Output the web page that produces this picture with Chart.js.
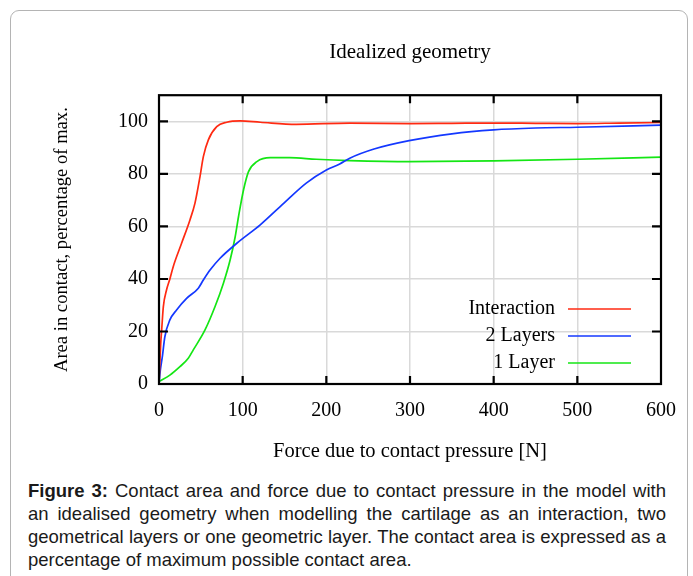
<!DOCTYPE html>
<html>
<head>
<meta charset="utf-8">
<script src="https://cdn.jsdelivr.net/npm/chart.js@4.4.1/dist/chart.umd.min.js"></script>
<style>
  html, body { margin: 0; padding: 0; background: #fff; }
  body { width: 693px; height: 576px; position: relative; overflow: hidden; }
  #frame {
    position: absolute; left: 10px; top: 10px; width: 676px; height: 600px;
    border: 1px solid #b4b4b4; border-radius: 9px;
  }
  #wrap { position: absolute; left: 0; top: 0; width: 693px; height: 470px; }
  #caption {
    position: absolute; left: 28px; top: 479px; width: 638px;
    font-family: "Liberation Sans", Arial, sans-serif; font-size: 18.5px;
    line-height: 23px; color: #1a1a1a;
  }
  #caption div { text-align: justify; text-align-last: justify; white-space: nowrap; }
  #caption div.last { text-align-last: left; }
</style>
</head>
<body>
<div id="frame"></div>
<div id="wrap"><canvas id="myChart"></canvas></div>
<div id="caption">
  <div><b>Figure 3:</b> Contact area and force due to contact pressure in the model with</div>
  <div>an idealised geometry when modelling the cartilage as an interaction, two</div>
  <div>geometrical layers or one geometric layer. The contact area is expressed as a</div>
  <div class="last">percentage of maximum possible contact area.</div>
</div>
<script>
var xTicks = [0, 100, 200, 300, 400, 500, 600];
var yTicks = [0, 20, 40, 60, 80, 100];

var forceInteraction = [0, 1, 2, 3.2, 5.2, 9, 13, 17, 27, 37, 43, 49, 53, 59, 69, 81, 97, 121, 164, 228, 300, 350, 400, 450, 500, 550, 600];
var areaInteraction  = [0, 8, 15, 20.6, 29.5, 35.8, 40, 44.7, 53.6, 62.5, 68.9, 79, 86.6, 93, 98, 99.7, 100.2, 99.7, 98.9, 99.4, 99.2, 99.3, 99.4, 99.3, 99.2, 99.4, 99.6];

var force2Layers = [0, 1.5, 4, 7, 13, 21, 33, 47, 53, 61, 73, 93, 121, 149, 176, 200, 216, 228, 257, 299, 350, 400, 450, 500, 600];
var area2Layers  = [0, 5, 10.4, 18, 24.4, 28.2, 32.6, 36.5, 39.6, 43.4, 47.9, 53.6, 60.6, 68.8, 76.5, 81.5, 83.8, 86, 89.5, 92.7, 95.3, 96.8, 97.5, 97.8, 98.6];

var force1Layer = [0, 13, 25, 35, 41, 55, 67, 77, 85, 91, 95, 101, 107, 117, 133, 156, 188, 228, 300, 400, 500, 600];
var area1Layer  = [1, 3.4, 6.6, 9.8, 13, 20.6, 29.5, 38.4, 47.2, 56, 63.7, 73.9, 80.9, 84.7, 86.2, 86.2, 85.6, 85.1, 84.7, 85, 85.6, 86.4];

var seriesNames  = ['Interaction', '2 Layers', '1 Layer'];
var seriesColors = ['#ff2a12', '#1438ff', '#14e614'];

function toPoints(xs, ys) {
  return xs.map(function (x, i) { return { x: x, y: ys[i] }; });
}

var serif = '"Liberation Serif", "Times New Roman", serif';

// gnuplot style frame, inward tick marks and the in-plot key
var gnuplotFrame = {
  id: 'gnuplotFrame',
  afterDraw: function (chart) {
    var c = chart.ctx, a = chart.chartArea;
    var sx = chart.scales.x, sy = chart.scales.y;
    c.save();
    c.strokeStyle = '#000';
    c.lineWidth = 2.2;
    c.beginPath();
    xTicks.forEach(function (v) {
      if (v === 0 || v === 600) return;
      var px = sx.getPixelForValue(v);
      c.moveTo(px, a.bottom); c.lineTo(px, a.bottom - 8);
      c.moveTo(px, a.top); c.lineTo(px, a.top + 8);
    });
    yTicks.forEach(function (v) {
      if (v === 0) return;
      var py = sy.getPixelForValue(v);
      c.moveTo(a.left, py); c.lineTo(a.left + 9, py);
      c.moveTo(a.right, py); c.lineTo(a.right - 9, py);
    });
    c.stroke();
    c.strokeRect(a.left, a.top, a.right - a.left, a.bottom - a.top);

    // key
    c.font = '20px ' + serif;
    c.textAlign = 'right';
    c.textBaseline = 'middle';
    chart.data.datasets.forEach(function (ds, i) {
      var y = a.bottom - 75 + i * 27;
      c.fillStyle = '#000';
      c.fillText(ds.label, a.right - 106, y);
      c.strokeStyle = ds.borderColor;
      c.lineWidth = 1.4;
      c.beginPath();
      c.moveTo(a.right - 93, y);
      c.lineTo(a.right - 30, y);
      c.stroke();
    });
    c.restore();
  }
};

var ctx = document.getElementById('myChart').getContext('2d');
var myChart = new Chart(ctx, {
  type: 'line',
  data: {
    datasets: [
      { label: seriesNames[0], data: toPoints(forceInteraction, areaInteraction), borderColor: seriesColors[0] },
      { label: seriesNames[1], data: toPoints(force2Layers, area2Layers), borderColor: seriesColors[1] },
      { label: seriesNames[2], data: toPoints(force1Layer, area1Layer), borderColor: seriesColors[2] }
    ]
  },
  options: {
    responsive: true,
    maintainAspectRatio: false,
    animation: false,
    layout: { padding: { left: 51, right: 32, top: 0, bottom: 6 } },
    elements: {
      point: { radius: 0 },
      line: { borderWidth: 1.7, cubicInterpolationMode: 'monotone', fill: false }
    },
    plugins: {
      legend: { display: false },
      tooltip: { enabled: false },
      title: {
        display: true,
        text: 'Idealized geometry',
        fullSize: false,
        color: '#000',
        font: { family: serif, size: 21, weight: 'normal' },
        padding: { top: 40, bottom: 30 }
      }
    },
    scales: {
      x: {
        type: 'linear',
        min: 0, max: 600,
        afterFit: function (scale) { scale.height = 80; },
        ticks: {
          stepSize: 100, padding: 15, color: '#000', maxRotation: 0,
          font: { family: serif, size: 20 }
        },
        grid: { color: '#d9d9d9', lineWidth: 1.5, drawTicks: false },
        border: { display: false },
        title: {
          display: true,
          text: 'Force due to contact pressure [N]',
          color: '#000',
          font: { family: serif, size: 20.5 },
          padding: { top: 0, bottom: 0 }
        }
      },
      y: {
        min: 0, max: 110,
        afterFit: function (scale) { scale.width = 108; },
        ticks: {
          stepSize: 20, padding: 11, color: '#000', includeBounds: false,
          font: { family: serif, size: 20 }
        },
        grid: { color: '#d9d9d9', lineWidth: 1.5, drawTicks: false },
        border: { display: false },
        title: {
          display: true,
          text: 'Area in contact, percentage of max.',
          color: '#000',
          font: { family: serif, size: 18.6 },
          padding: { top: 0, bottom: 0 }
        }
      }
    }
  },
  plugins: [gnuplotFrame]
});
</script>
</body>
</html>
